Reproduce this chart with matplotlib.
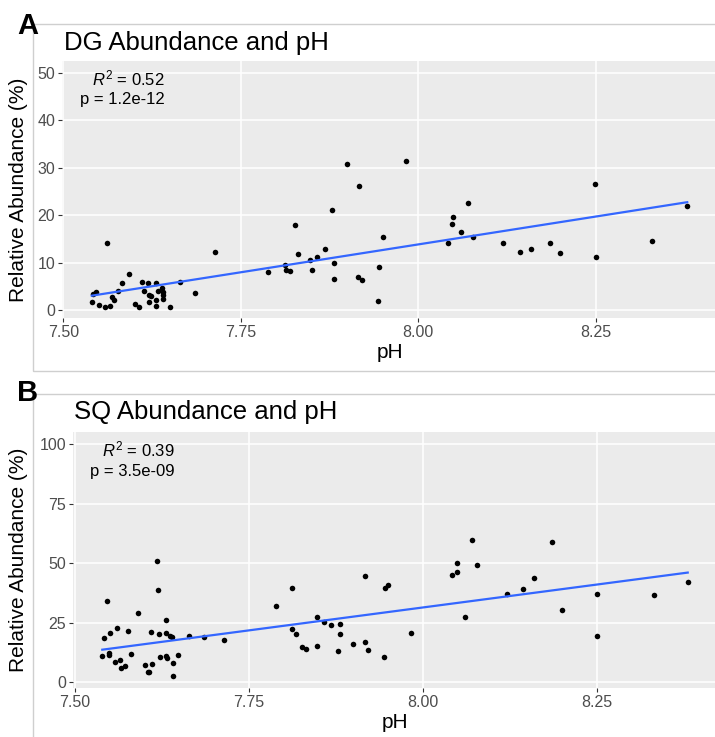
import numpy as np
import matplotlib
matplotlib.use("Agg")
import matplotlib.pyplot as plt
from matplotlib.patches import Rectangle

plt.rcParams['font.family'] = ['Liberation Sans', 'DejaVu Sans']
plt.rcParams['mathtext.fontset'] = 'custom'
plt.rcParams['mathtext.rm'] = 'Liberation Sans'
plt.rcParams['mathtext.it'] = 'Liberation Sans:italic'

# panel A - DG abundance vs pH
ph_dg = [7.540, 7.542, 7.546, 7.550, 7.559, 7.566, 7.562, 7.568, 7.572, 7.577,
         7.582, 7.592, 7.601, 7.606, 7.611, 7.613, 7.619, 7.620, 7.621, 7.623,
         7.630, 7.631, 7.631, 7.633, 7.639, 7.640, 7.641, 7.641, 7.650, 7.664,
         7.685, 7.714, 7.788, 7.812, 7.813, 7.819, 7.827, 7.831, 7.848, 7.850,
         7.858, 7.868, 7.879, 7.882, 7.881, 7.900, 7.916, 7.915, 7.921, 7.943,
         7.945, 7.951, 7.983, 8.042, 8.048, 8.049, 8.060, 8.070, 8.077, 8.120,
         8.143, 8.159, 8.185, 8.200, 8.249, 8.250, 8.330, 8.379]
dg = [1.7, 3.4, 3.8, 1.1, 0.7, 0.8, 14.2, 2.8, 2.1, 4.1,
      5.6, 7.6, 1.3, 0.7, 5.8, 4.0, 5.7, 3.1, 1.7, 2.9,
      2.2, 5.7, 0.9, 4.1, 4.6, 3.1, 2.4, 3.8, 0.7, 5.9,
      3.5, 12.2, 8.0, 9.5, 8.4, 8.2, 17.8, 11.8, 10.5, 8.5,
      11.1, 12.9, 21.1, 9.8, 6.6, 30.8, 26.1, 7.0, 6.4, 1.9,
      9.0, 15.3, 31.4, 14.2, 18.2, 19.6, 16.4, 22.5, 15.4, 14.1,
      12.3, 12.9, 14.1, 12.1, 26.5, 11.1, 14.5, 22.0]

# panel B - SQ abundance vs pH
ph_sq = [7.539, 7.541, 7.546, 7.548, 7.549, 7.550, 7.558, 7.560, 7.564, 7.566,
         7.571, 7.576, 7.580, 7.591, 7.600, 7.604, 7.606, 7.609, 7.611, 7.618,
         7.619, 7.620, 7.622, 7.630, 7.630, 7.630, 7.632, 7.637, 7.639, 7.640,
         7.640, 7.648, 7.664, 7.685, 7.714, 7.788, 7.811, 7.812, 7.818, 7.826,
         7.831, 7.847, 7.848, 7.858, 7.868, 7.881, 7.880, 7.878, 7.899, 7.916,
         7.916, 7.921, 7.943, 7.945, 7.950, 7.983, 8.042, 8.049, 8.048, 8.060,
         8.070, 8.077, 8.120, 8.143, 8.159, 8.185, 8.200, 8.250, 8.249, 8.331,
         8.380]
sq = [10.9, 18.6, 34.0, 12.4, 11.3, 20.7, 8.6, 22.7, 9.4, 6.1,
      6.7, 21.5, 11.9, 29.0, 7.1, 4.3, 4.3, 21.0, 7.8, 50.8,
      38.7, 20.1, 10.5, 26.1, 20.6, 10.9, 10.2, 19.3, 19.0, 8.0,
      2.5, 11.6, 19.4, 19.1, 17.6, 32.1, 39.7, 22.2, 20.1, 14.9,
      13.8, 27.5, 15.4, 25.4, 24.0, 24.3, 20.1, 13.1, 15.9, 44.7,
      16.9, 13.5, 10.6, 39.7, 41.0, 20.6, 44.9, 46.1, 50.2, 27.3,
      59.8, 49.3, 36.9, 39.2, 43.8, 59.0, 30.3, 36.9, 19.4, 36.6,
      42.2]

panels = [
    dict(tag="A", title="DG Abundance and pH", x=ph_dg, y=dg, ymax=50,
         yticks=[0, 10, 20, 30, 40, 50], r2="0.52", p="1.2e-12",
         rect=(62, 60.8, 655, 257.6), frame=(33, 24, 700, 347),
         ylab_y=190, xlab=(390, 353), title_pos=(64, 50), tag_pos=(27.5, 26)),
    dict(tag="B", title="SQ Abundance and pH", x=ph_sq, y=sq, ymax=100,
         yticks=[0, 25, 50, 75, 100], r2="0.39", p="3.5e-09",
         rect=(73, 432.4, 644, 255.6), frame=(33, 394, 700, 360),
         ylab_y=560, xlab=(395, 723), title_pos=(74, 419), tag_pos=(27.5, 393)),
]

W, H = 715, 737
fig = plt.figure(figsize=(W / 100, H / 100), dpi=100)

def fx(px):
    return px / W

def fy(py):
    return 1 - py / H

for pn in panels:
    fl, ft, fw, fh = pn["frame"]
    fig.patches.append(Rectangle((fx(fl), fy(ft + fh)), fw / W, fh / H,
                                 transform=fig.transFigure, fill=False,
                                 edgecolor="#cfcfcf", lw=1))

    l, t, w, h = pn["rect"]
    ax = fig.add_axes([fx(l), fy(t + h), w / W, h / H])
    ax.set_facecolor("#EBEBEB")
    for s in ax.spines.values():
        s.set_visible(False)

    x = np.array(pn["x"])
    y = np.array(pn["y"])
    xr = x.max() - x.min()
    ax.set_xlim(x.min() - 0.05 * xr, x.max() + 0.05 * xr)
    yr = pn["ymax"] - y.min()
    ax.set_ylim(y.min() - 0.05 * yr, pn["ymax"] + 0.05 * yr)

    ax.set_xticks([7.50, 7.75, 8.00, 8.25])
    ax.set_xticklabels(["7.50", "7.75", "8.00", "8.25"])
    ax.set_yticks(pn["yticks"])
    ax.grid(True, color="white", lw=1.1)
    ax.set_axisbelow(True)
    ax.tick_params(length=3, width=0.8, color="#333333", labelcolor="#4D4D4D",
                   labelsize=11.5, pad=2)

    ax.scatter(x, y, s=16, color="black", zorder=3, linewidths=0)
    k, b = np.polyfit(x, y, 1)
    xs = np.array([x.min(), x.max()])
    ax.plot(xs, k * xs + b, color="#3366FF", lw=1.6, zorder=4)

    ax.text(7.643, pn["ymax"] * 0.976, r"$R^2$ = " + pn["r2"], ha="right",
            va="center", fontsize=12)
    ax.text(7.643, pn["ymax"] * 0.885, "p = " + pn["p"], ha="right",
            va="center", fontsize=12)

    fig.text(fx(pn["title_pos"][0]), fy(pn["title_pos"][1]), pn["title"],
             fontsize=18.5, va="baseline", ha="left")
    fig.text(fx(pn["tag_pos"][0]), fy(pn["tag_pos"][1]), pn["tag"],
             fontsize=21, fontweight="bold", ha="center", va="center")
    fig.text(fx(19), fy(pn["ylab_y"]), "Relative Abundance (%)", rotation=90,
             fontsize=15, ha="center", va="center")
    fig.text(fx(pn["xlab"][0]), fy(pn["xlab"][1]), "pH", fontsize=15,
             ha="center", va="center")

fig.savefig("out.png", dpi=100)
